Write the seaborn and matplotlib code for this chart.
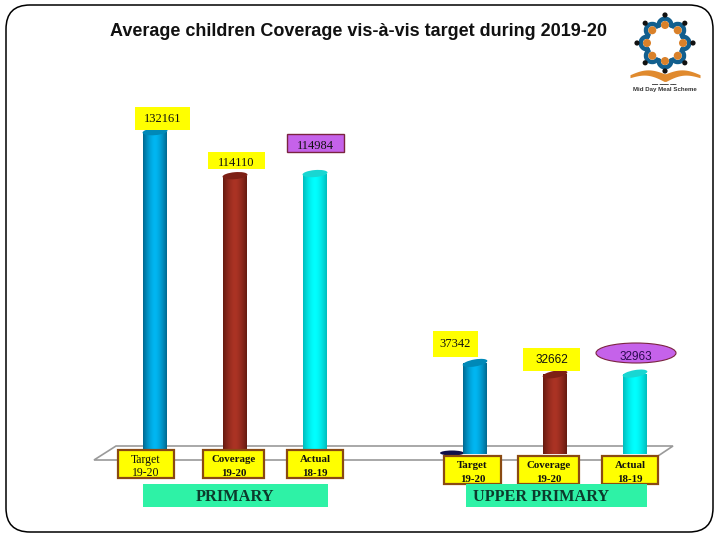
import numpy as np
import pandas as pd
import matplotlib.pyplot as plt
import seaborn as sns
from matplotlib.colors import to_rgb
from matplotlib.patches import Ellipse, FancyBboxPatch, Polygon, Rectangle, Wedge, Circle

# Values
slots = ['P-Target', 'P-Coverage', 'P-Actual', 'gap', 'U-Target', 'U-Coverage', 'U-Actual']
used_slots = ['P-Target', 'P-Coverage', 'P-Actual', 'U-Target', 'U-Coverage', 'U-Actual']
metrics = ['Target', 'Coverage', 'Actual', 'Target', 'Coverage', 'Actual']
children = [132161, 114110, 114984, 37342, 32662, 32963]
title = 'Average children Coverage vis-à-vis target during 2019-20'
metric_names = ['Target', 'Coverage', 'Actual']
metric_years = ['19-20', '19-20', '18-19']
group_names = ['PRIMARY', 'UPPER PRIMARY']

W, H = 720, 540
YEL, PUR, BRN = '#ffff00', '#c562ea', '#8a4a12'
GRN = '#2ef2a6'
edge_cols = {'Target': '#00688f', 'Coverage': '#651a10', 'Actual': '#00bcbc'}
mid_cols = {'Target': '#00b6f2', 'Coverage': '#ab3324', 'Actual': '#00ffff'}
cap_cols = {'Target': '#0089b8', 'Coverage': '#7d2015', 'Actual': '#19d6d2'}
SERIF = 'Liberation Serif'

sns.set_theme(style='white')
fig = plt.figure(figsize=(7.2, 5.4), dpi=100, facecolor='white')


def pixel_axes(zorder):
    a = fig.add_axes([0, 0, 1, 1], zorder=zorder)
    a.set_xlim(0, W)
    a.set_ylim(H, 0)
    a.axis('off')
    a.patch.set_alpha(0)
    return a


back = pixel_axes(0)
front = pixel_axes(2)

# page border
back.add_patch(FancyBboxPatch((28, 27), 663, 483, boxstyle='round,pad=22,rounding_size=24',
                              fc='white', ec='black', lw=1.1))
back.text(359, 32, title, ha='center', va='center', fontsize=12.95,
          family='Liberation Sans', weight='bold', color='#111111')

# floor of the 3d chart
back.add_patch(Polygon([(94, 460), (116, 446), (673, 446), (652, 460)], closed=True,
                       fc='white', ec='#9a9a9a', lw=1.2))
back.add_patch(Ellipse((452, 453), 24, 5, fc='#10104a', ec='none'))

# bars
base_px = 454
px_units = 410
ax = fig.add_axes([115 / W, (H - base_px) / H, 560 / W, base_px / H], zorder=1)
ax.patch.set_alpha(0)
df = pd.DataFrame({'slot': used_slots, 'metric': metrics, 'children': children})
sns.barplot(data=df, x='slot', y='children', order=slots, hue='metric',
            hue_order=metric_names, dodge=False, width=0.3, legend=False,
            palette=mid_cols, ax=ax)
ax.set_xlim(-0.5, 6.5)
ax.set_ylim(0, base_px * px_units)
ax.axis('off')

ramp = np.abs(np.linspace(-1, 1, 64)) ** 1.6
caps = []
for name, cont in zip(metric_names, ax.containers):
    c0 = np.array(to_rgb(mid_cols[name]))
    c1 = np.array(to_rgb(edge_cols[name]))
    img = (c0 + (c1 - c0) * ramp[:, None])[None, :, :]
    for b in cont:
        x0, w, h = b.get_x(), b.get_width(), b.get_height()
        b.set_facecolor('none')
        b.set_edgecolor('none')
        im = ax.imshow(img, extent=[x0, x0 + w, 0, h], aspect='auto', zorder=2)
        im.set_clip_path(b)
        ax.add_patch(Ellipse((x0 + w / 2, 0), w, 6 * px_units, fc=edge_cols[name], ec='none', zorder=1.5))
        caps.append((x0 + w / 2, h, name))
ax.set_xlim(-0.5, 6.5)
ax.set_ylim(0, base_px * px_units)

# tilted bar tops, placed from the bar positions
to_px = front.transData.inverted()
for xc, h, name in caps:
    px, py = to_px.transform(ax.transData.transform((xc, h)))
    tilt = -10 if py > 300 else -5
    front.add_patch(Ellipse((px, py), 25, 7, angle=tilt, fc=cap_cols[name], ec='none'))


# value labels
def box(x0, y0, x1, y1, fc, ec='none', lw=0):
    front.add_patch(Rectangle((x0, y0), x1 - x0, y1 - y0, fc=fc, ec=ec, lw=lw))


val_boxes = [(135, 107, 190, 130), (208, 152, 265, 169), (287, 134, 344, 152),
             (433, 331, 478, 357), (523, 348, 580, 371)]
val_text_y = [119, 163, 146, 344, 360]
val_fonts = [SERIF, SERIF, SERIF, SERIF, 'Liberation Sans']
for i, (b, ty, f) in enumerate(zip(val_boxes, val_text_y, val_fonts)):
    if i == 2:
        box(*b, PUR, '#7a2440', 1.0)
    else:
        box(*b, YEL)
    front.text((b[0] + b[2]) / 2, ty, str(children[i]), ha='center', va='center',
               fontsize=9 if i < 4 else 8.5, family=f, color='#111111')
front.add_patch(Ellipse((636, 353), 80, 20, fc=PUR, ec='#7a2440', lw=0.8))
front.text(636, 357, str(children[5]), ha='center', va='center', fontsize=8.5,
           family='Liberation Sans', color='#2a0a50')

# category boxes
cat_boxes = [(118, 450, 174, 478), (203, 450, 264, 478), (287, 450, 343, 478),
             (444, 456, 501, 484), (518, 456, 579, 484), (602, 456, 658, 484)]
for i, b in enumerate(cat_boxes):
    box(*b, YEL, BRN, 1.6)
    cx = (b[0] + b[2]) / 2
    wt = 'semibold' if i else 'normal'
    front.text(cx, b[1] + 10, metric_names[i % 3], ha='center', va='center',
               fontsize=8.5 if i == 0 else 7.8, family=SERIF, weight=wt, color='#111111')
    front.text(cx, b[1] + 23, metric_years[i % 3], ha='center', va='center',
               fontsize=8.5 if i == 0 else 7.8, family=SERIF, weight=wt, color='#111111')

# group bands
box(143, 484, 328, 507, GRN)
front.text(235.5, 497, group_names[0], ha='center', va='center', fontsize=11.8,
           family=SERIF, weight='bold', color='#0c3b2c')
box(466, 484, 647, 507, GRN)
front.text(541.5, 497, group_names[1], ha='center', va='center', fontsize=11.7,
           family=SERIF, weight='bold', color='#0c3b2c')

# logo
cx, cy = 665, 43
for k in range(8):
    t = np.pi / 4 * k
    dx, dy = cx + 18 * np.cos(t), cy + 18 * np.sin(t)
    deg = np.degrees(t)
    back.add_patch(Wedge((dx, dy), 8.5, deg - 115, deg + 115, width=4.4, fc='#125f8e', ec='none'))
    back.add_patch(Circle((dx, dy), 4, fc='#d9812a', ec='none'))
    back.add_patch(Circle((cx + 28 * np.cos(t), cy + 28 * np.sin(t)), 2.6, fc='#111111', ec='none'))
xs = np.linspace(-35, 35, 40)
up = 74 - 5 * np.sin(np.abs(xs) / 35 * np.pi) * 0.9 + np.abs(xs) * 0.02
back.fill_between(cx + xs, up, up + 3 + (35 - np.abs(xs)) * 0.14, color='#e08a2e', lw=0)
back.text(cx - 0.5, 85, '━━ ━━━ ━━', ha='center', va='center', fontsize=3.6, color='#333333')
back.text(cx - 0.5, 90, 'Mid Day Meal Scheme', ha='center', va='center', fontsize=4.4,
          family='Liberation Sans', weight='bold', color='#333333')

fig.savefig('out.png', dpi=100)
